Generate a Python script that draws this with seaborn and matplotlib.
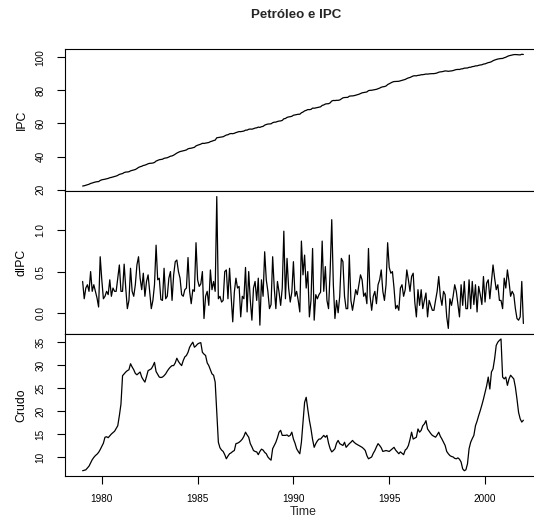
import numpy as np
import pandas as pd
import matplotlib
matplotlib.use("Agg")
import matplotlib.pyplot as plt
import seaborn as sns
from matplotlib.ticker import FixedLocator, FormatStrFormatter, NullLocator

# ---------------- data ----------------
START_YEAR = 1979
FREQ = 12
title = "Petróleo e IPC"
series_names = ["IPC", "dIPC", "Crudo"]
x_label = "Time"
x_ticks = [1980, 1985, 1990, 1995, 2000]
ipc_ticks = [20, 40, 60, 80, 100]
dipc_ticks = [0.0, 0.5, 1.0]
crudo_ticks = [10, 15, 20, 25, 30, 35]

IPC_BASE = 21.8

dIPC = [
    0.38, 0.17, 0.30, 0.34, 0.26, 0.50, 0.26, 0.34, 0.26, 0.18, 0.07, 0.68,   # 1979
    0.40, 0.17, 0.20, 0.26, 0.22, 0.40, 0.20, 0.30, 0.26, 0.26, 0.42, 0.58,   # 1980
    0.26, 0.26, 0.59, 0.30, 0.05, 0.15, 0.54, 0.26, 0.20, 0.34, 0.58, 0.68,   # 1981
    0.42, 0.28, 0.48, 0.20, 0.38, 0.46, 0.26, 0.05, 0.15, 0.34, 0.82, 0.40,   # 1982
    0.42, 0.16, 0.15, 0.54, 0.17, 0.20, 0.42, 0.50, 0.15, 0.46, 0.62, 0.64,   # 1983
    0.50, 0.42, 0.22, 0.20, 0.28, 0.30, 0.67, 0.26, 0.11, 0.28, 0.26, 0.85,   # 1984
    0.40, 0.32, 0.35, 0.50, -0.07, 0.20, 0.26, 0.09, 0.52, 0.28, 0.38, 0.26,  # 1985
    1.41, 0.17, 0.20, 0.13, 0.15, 0.50, 0.52, 0.17, 0.54, 0.20, -0.11, 0.25,  # 1986
    0.42, 0.30, 0.32, -0.05, 0.20, 0.17, 0.55, 0.01, 0.50, 0.15, -0.09, 0.30, # 1987
    0.38, 0.15, 0.42, -0.15, 0.40, 0.20, 0.74, 0.40, 0.26, 0.05, 0.10, 0.68,  # 1988
    0.30, 0.05, 0.38, 0.25, 0.09, 0.30, 0.99, 0.17, 0.66, 0.30, 0.13, 0.25,   # 1989
    0.62, 0.20, 0.26, 0.15, 0.01, 0.87, 0.46, 0.70, 0.30, 0.50, -0.05, 0.15,  # 1990
    0.78, -0.09, 0.22, 0.17, 0.22, 0.25, 0.87, 0.26, 0.56, 0.15, 0.05, 0.50,  # 1991
    1.13, 0.34, -0.07, 0.15, 0.00, 0.20, 0.66, 0.62, 0.20, 0.05, 0.05, 0.70,  # 1992
    0.15, 0.03, 0.15, 0.28, 0.22, 0.34, 0.46, 0.40, 0.20, 0.24, 0.11, 0.78,   # 1993
    0.20, 0.03, 0.20, 0.26, 0.11, 0.34, 0.40, 0.52, 0.26, 0.15, 0.34, 0.85,   # 1994
    0.55, 0.48, 0.50, 0.30, 0.05, 0.09, 0.03, 0.30, 0.34, 0.20, 0.28, 0.52,   # 1995
    0.40, 0.26, 0.44, 0.48, 0.13, -0.05, 0.28, 0.09, 0.28, 0.05, 0.15, 0.24,  # 1996
    -0.05, 0.15, 0.09, 0.03, 0.03, 0.15, 0.26, 0.44, 0.20, 0.09, 0.26, 0.22,  # 1997
    -0.05, -0.19, 0.17, 0.09, 0.20, 0.34, 0.26, 0.10, -0.05, 0.34, 0.09, 0.38,# 1998
    0.05, 0.05, 0.40, 0.05, 0.38, 0.10, 0.34, 0.01, 0.32, 0.22, 0.10, 0.44,   # 1999
    0.13, 0.36, 0.40, 0.17, 0.38, 0.58, 0.42, 0.28, 0.34, 0.15, 0.15, 0.05,   # 2000
    0.42, 0.30, 0.52, 0.38, 0.20, 0.26, 0.22, 0.05, -0.07, -0.09, -0.05, 0.38,# 2001
    -0.13,                                                                    # 2002
]

crudo = [
    7.0, 7.1, 7.2, 7.6, 8.0, 8.7, 9.4, 9.9, 10.3, 10.6, 11.0, 11.6,          # 1979
    12.3, 13.0, 14.3, 14.4, 14.2, 14.6, 15.0, 15.3, 15.6, 16.2, 16.8, 19.0,  # 1980
    21.5, 27.7, 28.1, 28.5, 28.8, 29.0, 30.3, 29.6, 29.0, 28.2, 27.9, 28.2,  # 1981
    28.5, 27.4, 26.8, 26.3, 27.5, 28.8, 29.0, 29.2, 29.8, 30.6, 28.6, 28.0,  # 1982
    27.4, 27.3, 27.4, 27.7, 28.1, 28.7, 29.2, 29.6, 29.9, 29.9, 30.5, 31.5,  # 1983
    30.8, 30.3, 29.9, 31.0, 31.8, 32.1, 32.8, 33.9, 34.5, 35.0, 33.9, 34.2,  # 1984
    34.6, 34.8, 34.9, 32.8, 32.4, 32.1, 30.5, 29.9, 29.0, 28.1, 27.8, 26.3,  # 1985
    19.7, 13.2, 12.0, 11.5, 11.2, 10.5, 9.6, 10.2, 10.7, 10.9, 11.2, 11.4,   # 1986
    12.9, 13.0, 13.2, 13.5, 13.9, 14.5, 15.4, 14.8, 14.3, 12.9, 12.2, 11.4,  # 1987
    11.2, 11.1, 10.5, 11.2, 11.7, 11.5, 11.0, 10.7, 10.0, 9.6, 9.3, 11.8,    # 1988
    12.5, 13.2, 14.2, 15.4, 15.8, 14.7, 14.7, 14.7, 14.8, 14.5, 14.7, 15.4,  # 1989
    13.9, 13.0, 11.8, 11.2, 10.7, 13.2, 17.5, 21.9, 23.0, 20.4, 18.0, 16.1,  # 1990
    13.8, 12.1, 12.9, 13.5, 13.9, 13.9, 14.3, 14.7, 14.3, 14.7, 13.0, 11.8,  # 1991
    11.1, 11.4, 11.8, 13.0, 13.6, 12.9, 12.7, 12.5, 13.2, 12.1, 12.5, 12.9,  # 1992
    13.2, 13.6, 13.2, 12.9, 12.7, 12.5, 12.3, 12.1, 11.8, 11.4, 10.3, 9.6,   # 1993
    9.8, 10.0, 10.8, 11.4, 12.2, 12.9, 12.5, 12.0, 11.2, 11.3, 11.4, 11.3,   # 1994
    11.2, 11.5, 11.8, 12.1, 11.5, 11.1, 10.7, 11.1, 10.8, 10.5, 11.5, 11.8,  # 1995
    12.5, 13.8, 15.4, 13.9, 14.1, 14.3, 16.1, 15.4, 15.8, 16.8, 17.2, 17.9,  # 1996
    16.1, 15.6, 15.1, 14.7, 14.5, 14.3, 14.8, 15.4, 14.5, 13.9, 13.2, 12.5,  # 1997
    11.2, 10.7, 10.3, 10.1, 10.0, 9.7, 9.6, 9.8, 9.5, 8.9, 7.4, 7.0,         # 1998
    7.2, 8.5, 11.8, 13.2, 14.0, 14.7, 16.8, 17.8, 19.0, 20.1, 21.3, 22.6,    # 1999
    24.1, 25.5, 27.4, 24.8, 28.5, 29.2, 31.4, 34.3, 35.0, 35.4, 35.7, 27.4,  # 2000
    27.0, 27.4, 25.6, 27.0, 27.8, 27.4, 27.0, 25.2, 22.6, 19.7, 18.3, 17.6,  # 2001
    18.0,                                                                    # 2002
]

ipc = IPC_BASE + np.cumsum(dIPC)
n = len(crudo)
time = START_YEAR + np.arange(n) / FREQ
df = pd.DataFrame({"Time": time, "IPC": ipc, "dIPC": dIPC, "Crudo": crudo})

# ---------------- style ----------------
sns.set_theme(style="ticks")
plt.rcParams["font.family"] = ["Liberation Sans", "DejaVu Sans"]
plt.rcParams["axes.linewidth"] = 0.8

W, H = 534, 529
fig = plt.figure(figsize=(W / 100, H / 100), dpi=100)

left_px, right_px = 65, 541
panels_px = [(49, 191.3), (191.3, 333.7), (333.7, 476)]
ticks_list = [ipc_ticks, dipc_ticks, crudo_ticks]
fmts = ["%d", "%.1f", "%d"]

t0, t1 = time[0], time[-1]
xr = t1 - t0
xlim = (t0 - 0.04 * xr, t1 + 0.04 * xr)

axes = []
for i, (name, (top, bot)) in enumerate(zip(series_names, panels_px)):
    ax = fig.add_axes([left_px / W, 1 - bot / H, (right_px - left_px) / W, (bot - top) / H])
    sns.lineplot(data=df, x="Time", y=name, ax=ax, color="black", linewidth=0.9,
                 estimator=None)
    vals = df[name].to_numpy()
    lo, hi = vals.min(), vals.max()
    r = hi - lo
    ax.set_ylim(lo - 0.04 * r, hi + 0.04 * r)
    ax.set_xlim(*xlim)
    ax.yaxis.set_major_locator(FixedLocator(ticks_list[i]))
    ax.yaxis.set_major_formatter(FormatStrFormatter(fmts[i]))
    ax.tick_params(axis="y", direction="out", length=6, width=0.8, pad=8,
                   labelsize=7.2, labelrotation=90, colors="black")
    for lab in ax.get_yticklabels():
        lab.set_va("center")
    ax.set_ylabel(name, fontsize=8.8, color="black")
    ax.yaxis.set_label_coords(-0.078, 0.5)
    ax.set_xlabel("")
    for s in ax.spines.values():
        s.set_visible(True)
        s.set_color("black")
        s.set_linewidth(0.8)
    if i < 2:
        ax.xaxis.set_major_locator(NullLocator())
        ax.tick_params(axis="x", bottom=False, labelbottom=False)
    else:
        ax.xaxis.set_major_locator(FixedLocator(x_ticks))
        ax.xaxis.set_major_formatter(FormatStrFormatter("%d"))
        ax.tick_params(axis="x", direction="out", length=6, width=0.8, pad=7,
                       labelsize=7.2, colors="black")
    axes.append(ax)

fig.text(296 / W, 1 - 15 / H, title, ha="center", va="center",
         fontsize=9.6, fontweight="bold")
fig.text(303 / W, 1 - 512 / H, x_label, ha="center", va="center", fontsize=8.8)

fig.savefig("out.png", dpi=100)
